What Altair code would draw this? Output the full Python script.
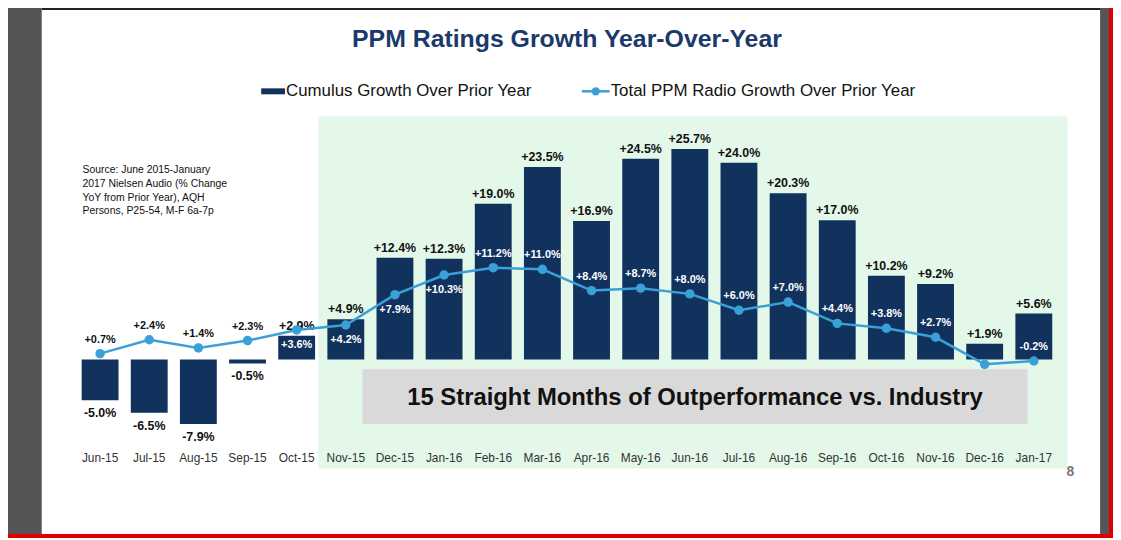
import altair as alt
import pandas as pd

months = ["Jun-15", "Jul-15", "Aug-15", "Sep-15", "Oct-15", "Nov-15", "Dec-15", "Jan-16",
          "Feb-16", "Mar-16", "Apr-16", "May-16", "Jun-16", "Jul-16", "Aug-16", "Sep-16",
          "Oct-16", "Nov-16", "Dec-16", "Jan-17"]
cumulus = [-5.0, -6.5, -7.9, -0.5, 2.9, 4.9, 12.4, 12.3, 19.0, 23.5, 16.9, 24.5, 25.7,
           24.0, 20.3, 17.0, 10.2, 9.2, 1.9, 5.6]
industry = [0.7, 2.4, 1.4, 2.3, 3.6, 4.2, 7.9, 10.3, 11.2, 11.0, 8.4, 8.7, 8.0, 6.0, 7.0,
            4.4, 3.8, 2.7, -0.6, -0.2]
# where each industry label sits relative to its point
industry_label_side = ["above"] * 4 + ["below"] * 4 + ["above"] * 10 + ["none", "above"]

NAVY = "#12325e"
BLUE = "#3aa0d8"
W, H = 990, 330
STEP = W / len(months)

df = pd.DataFrame({
    "month": months,
    "cumulus": cumulus,
    "industry": industry,
    "side": industry_label_side,
    "clab": [f"{v:+.1f}%" for v in cumulus],
    "ilab": [f"{v:+.1f}%" for v in industry],
    "idx": list(range(len(months))),
})

x = alt.X("month:N", sort=months, title=None,
          scale=alt.Scale(paddingInner=0.25, paddingOuter=0.125),
          axis=alt.Axis(labelAngle=0, ticks=False, domain=False, labelFontSize=12,
                        labelColor="#333", labelPadding=9, labelFont="Arial", zindex=1))
yscale = alt.Scale(domain=[-10.3, 29.7], nice=False, zero=False)
y = alt.Y("cumulus:Q", scale=yscale, axis=None)

base = alt.Chart(df)

frame = alt.Chart(pd.DataFrame({"k": [0]}))
gray_strip = frame.mark_rect(color="#555", clip=False).encode(
    x=alt.value(-76), x2=alt.value(-34), y=alt.value(-115), y2=alt.value(425))
top_strip = frame.mark_rect(color="#222", clip=False).encode(
    x=alt.value(-34), x2=alt.value(1040), y=alt.value(-115), y2=alt.value(-107))
right_strip = frame.mark_rect(color="#555", clip=False).encode(
    x=alt.value(1032), x2=alt.value(1045), y=alt.value(-115), y2=alt.value(425))
red_border = frame.mark_rect(fill=None, stroke="#e00000", strokeWidth=4, clip=False).encode(
    x=alt.value(-74), x2=alt.value(1043), y=alt.value(-113), y2=alt.value(423))
green = frame.mark_rect(color="#e4f8ea", clip=False).encode(
    x=alt.value(5 * STEP - 3), x2=alt.value(W + 9), y=alt.value(0), y2=alt.value(355))

bars = base.mark_bar(color=NAVY).encode(x=x, y=y, y2=alt.datum(0))
pos_lab = base.transform_filter("datum.cumulus >= 0").mark_text(
    dy=-10, fontWeight="bold", fontSize=12.5, font="Arial", color="#111").encode(
    x=x, y=y, text="clab:N")
neg_lab = base.transform_filter("datum.cumulus < 0").mark_text(
    dy=13, fontWeight="bold", fontSize=12.5, font="Arial", color="#111").encode(
    x=x, y=y, text="clab:N")

yi = alt.Y("industry:Q", scale=yscale, axis=None)
line = base.mark_line(color=BLUE, strokeWidth=2.5).encode(x=x, y=yi)
pts = base.mark_circle(color=BLUE, size=90, opacity=1).encode(x=x, y=yi)
lab_color = alt.condition("datum.idx < 4", alt.value("#111"), alt.value("white"))
i_above = base.transform_filter("datum.side == 'above'").mark_text(
    dy=-14, fontWeight="bold", fontSize=11, font="Arial").encode(
    x=x, y=yi, text="ilab:N", color=lab_color)
i_below = base.transform_filter("datum.side == 'below'").mark_text(
    dy=15, fontWeight="bold", fontSize=11, font="Arial").encode(
    x=x, y=yi, text="ilab:N", color=lab_color)

box = frame.mark_rect(color="#d9d9d9").encode(
    x=alt.value(289), x2=alt.value(959), y=alt.value(255), y2=alt.value(310))
box_txt = frame.mark_text(fontSize=24, fontWeight="bold", font="Arial", color="#111").encode(
    x=alt.value(624), y=alt.value(284),
    text=alt.value("15 Straight Months of Outperformance vs. Industry"))

source = frame.mark_text(align="left", baseline="top", fontSize=10.5, font="Arial",
                         color="#111", lineHeight=14, clip=False).encode(
    x=alt.value(7), y=alt.value(49),
    text=alt.value(["Source: June 2015-January", "2017 Nielsen Audio (% Change",
                    "YoY from Prior Year), AQH", "Persons, P25-54, M-F 6a-7p"]))
title = frame.mark_text(fontSize=25, fontWeight="bold", font="Arial", color="#1a3a6b",
                        clip=False).encode(
    x=alt.value(495), y=alt.value(-78), text=alt.value("PPM Ratings Growth Year-Over-Year"))
leg_bar = frame.mark_rect(color=NAVY, clip=False).encode(
    x=alt.value(187), x2=alt.value(211), y=alt.value(-28), y2=alt.value(-22))
leg_bar_t = frame.mark_text(align="left", fontSize=17, font="Arial", color="#111",
                            clip=False).encode(
    x=alt.value(212), y=alt.value(-25), text=alt.value("Cumulus Growth Over Prior Year"))
leg_line = frame.mark_rule(color=BLUE, strokeWidth=2.5, clip=False).encode(
    x=alt.value(510), x2=alt.value(538), y=alt.value(-25))
leg_pt = frame.mark_circle(color=BLUE, size=70, opacity=1, clip=False).encode(
    x=alt.value(524), y=alt.value(-25))
leg_line_t = frame.mark_text(align="left", fontSize=17, font="Arial", color="#111",
                             clip=False).encode(
    x=alt.value(539), y=alt.value(-25), text=alt.value("Total PPM Radio Growth Over Prior Year"))
page = frame.mark_text(fontSize=14, fontWeight="bold", font="Arial", color="#777",
                       clip=False).encode(
    x=alt.value(1002), y=alt.value(358), text=alt.value("8"))

chart = alt.layer(
    gray_strip, top_strip, right_strip, red_border, green, bars, pos_lab, neg_lab,
    line, pts, i_above, i_below, box, box_txt, source, title,
    leg_bar, leg_bar_t, leg_line, leg_pt, leg_line_t, page,
).properties(
    width=W, height=H, autosize=alt.AutoSizeParams(type="none"),
    padding={"left": 68, "top": 107, "right": 55, "bottom": 95},
).configure_view(stroke=None)

chart.save("out.html", embed_options={"renderer": "svg", "actions": False})
